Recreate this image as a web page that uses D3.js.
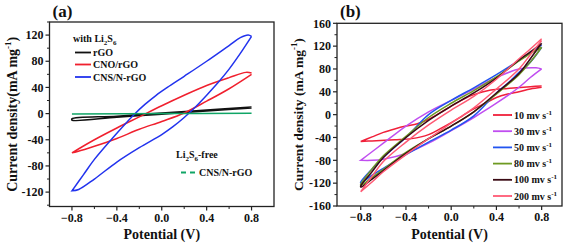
<!DOCTYPE html>
<html>
<head>
<meta charset="utf-8">
<script src="https://cdn.jsdelivr.net/npm/d3@7"></script>
<style>
  body { margin: 0; background: #fff; }
  text { font-family: "Liberation Serif", "Times New Roman", serif; font-weight: bold; fill: #111; }
</style>
</head>
<body>
<div id="chart"></div>
<script>
"use strict";

// ---- data: panel (a), [potential, current] per branch
var aSeries = ["rGO", "CNO/rGO", "CNS/N-rGO", "CNS/N-rGO (Li2S6-free)"];
var aColors = ["#111111", "#f0202e", "#2233ee", "#10a566"];

var rgoBack = [[0.8, 10], [0.4, 5.5], [0, 1], [-0.4, -4], [-0.8, -8]];
var rgoFwd = [[-0.8, -10], [-0.4, -5.5], [0, -1], [0.4, 4], [0.8, 8.5]];

var cnoBack = [[0.8, 62], [0.75, 63], [0.6, 55], [0.4, 43], [0.2, 28], [0, 12], [-0.2, -5], [-0.4, -22], [-0.6, -40], [-0.8, -60]];
var cnoFwd = [[-0.8, -60], [-0.75, -58], [-0.6, -50], [-0.4, -38], [-0.2, -24], [0, -12], [0.2, 1], [0.4, 19], [0.6, 38], [0.8, 60]];

var cnsBack = [[0.8, 118], [0.77, 120], [0.7, 116], [0.6, 104], [0.4, 80], [0.2, 57], [0.05, 40], [-0.05, 28], [-0.15, 14], [-0.25, -2], [-0.4, -30], [-0.6, -70], [-0.7, -94], [-0.8, -118]];
var cnsFwd = [[-0.8, -118], [-0.74, -116], [-0.6, -100], [-0.4, -74], [-0.2, -52], [0, -32], [0.1, -20], [0.2, -6], [0.3, 10], [0.4, 28], [0.5, 47], [0.6, 68], [0.7, 92], [0.8, 118]];

var freeBack = [[0.8, 0.5], [0, 0], [-0.8, -0.5]];
var freeFwd = [[-0.8, -0.5], [0, 0], [0.8, 0.5]];

var aBack = [rgoBack, cnoBack, cnsBack, freeBack];
var aFwd = [rgoFwd, cnoFwd, cnsFwd, freeFwd];

// ---- data: panel (b), scan rates
var bSeries = ["10", "30", "50", "80", "100", "200"];
var bColors = ["#f0203a", "#c04ef0", "#2255f0", "#6e9a22", "#3a0a14", "#ff5a74"];

var b10Back = [[0.8, 50], [0.7, 49], [0.5, 46], [0.35, 43], [0.2, 35], [0.1, 26], [0, 15], [-0.1, 3], [-0.2, -8], [-0.3, -16], [-0.4, -20], [-0.5, -25], [-0.6, -31], [-0.7, -39], [-0.8, -47]];
var b10Fwd = [[-0.8, -47], [-0.7, -46], [-0.5, -44], [-0.35, -42], [-0.2, -35], [-0.1, -25], [0, -14], [0.1, -2], [0.2, 10], [0.3, 20], [0.4, 30], [0.5, 36], [0.6, 40], [0.7, 45], [0.8, 48]];

var b30Back = [[0.8, 80], [0.75, 82], [0.6, 80], [0.4, 65], [0.2, 45], [0, 25], [-0.2, 5], [-0.4, -20], [-0.6, -50], [-0.7, -65], [-0.8, -80]];
var b30Fwd = [[-0.8, -80], [-0.7, -80], [-0.6, -78], [-0.4, -68], [-0.2, -50], [0, -28], [0.2, -5], [0.4, 20], [0.6, 48], [0.7, 65], [0.8, 80]];

var b50Back = [[0.8, 122], [0.7, 108], [0.6, 95], [0.4, 70], [0.2, 47], [0, 25], [-0.2, 0], [-0.4, -40], [-0.5, -57], [-0.6, -75], [-0.7, -95], [-0.8, -118]];
var b50Fwd = [[-0.8, -120], [-0.7, -106], [-0.6, -94], [-0.4, -70], [-0.2, -48], [0, -27], [0.2, -2], [0.4, 38], [0.5, 55], [0.6, 74], [0.7, 92], [0.8, 118]];

var b80Back = [[0.8, 118], [0.7, 107], [0.6, 94], [0.4, 66], [0.2, 42], [0, 20], [-0.2, -5], [-0.4, -38], [-0.6, -72], [-0.7, -95], [-0.8, -122]];
var b80Fwd = [[-0.8, -124], [-0.7, -110], [-0.6, -96], [-0.4, -66], [-0.2, -42], [0, -20], [0.2, 5], [0.4, 36], [0.6, 70], [0.7, 92], [0.8, 118]];

var b100Back = [[0.8, 125], [0.7, 110], [0.6, 96], [0.4, 64], [0.2, 38], [0, 15], [-0.2, -10], [-0.4, -40], [-0.6, -75], [-0.7, -100], [-0.8, -125]];
var b100Fwd = [[-0.8, -127], [-0.7, -113], [-0.6, -98], [-0.4, -68], [-0.2, -42], [0, -20], [0.2, 5], [0.4, 38], [0.6, 72], [0.7, 98], [0.8, 125]];

var b200Back = [[0.8, 133], [0.7, 115], [0.6, 98], [0.4, 62], [0.2, 32], [0, 8], [-0.2, -18], [-0.4, -48], [-0.6, -82], [-0.7, -108], [-0.8, -135]];
var b200Fwd = [[-0.8, -135], [-0.7, -118], [-0.6, -100], [-0.4, -70], [-0.2, -42], [0, -15], [0.2, 12], [0.4, 45], [0.6, 80], [0.7, 105], [0.8, 130]];

var bBack = [b10Back, b30Back, b50Back, b80Back, b100Back, b200Back];
var bFwd = [b10Fwd, b30Fwd, b50Fwd, b80Fwd, b100Fwd, b200Fwd];

// ---- ticks
var xMajor = [-0.8, -0.4, 0, 0.4, 0.8];
var xMinor = [-0.6, -0.2, 0.2, 0.6];
var aYMajor = [-120, -80, -40, 0, 40, 80, 120];
var aYMinor = [-140, -100, -60, -20, 20, 60, 100, 140];
var bYMajor = [-160, -120, -80, -40, 0, 40, 80, 120, 160];
var bYMinor = [-140, -100, -60, -20, 20, 60, 100, 140];

var svg = d3.select("#chart").append("svg")
  .attr("width", 567)
  .attr("height", 244);

function fmt(v) {
  if (v === 0) return "0.0";
  return d3.format(".1f")(v);
}

function drawPanel(opt) {
  var x = d3.scaleLinear().domain(opt.xDomain).range([opt.left, opt.right]);
  var y = d3.scaleLinear().domain(opt.yDomain).range([opt.bottom, opt.top]);
  var g = svg.append("g");

  // curves
  var line = d3.line()
    .x(function(d) { return x(d[0]); })
    .y(function(d) { return y(d[1]); })
    .curve(d3.curveCatmullRom.alpha(0.5));

  for (var i = 0; i < opt.back.length; i++) {
    g.append("path")
      .attr("d", line(opt.back[i].concat(opt.fwd[i])))
      .attr("fill", "none")
      .attr("stroke", opt.colors[i])
      .attr("stroke-width", 1.5);
  }

  // frame
  g.append("rect")
    .attr("x", opt.left)
    .attr("y", opt.top)
    .attr("width", opt.right - opt.left)
    .attr("height", opt.bottom - opt.top)
    .attr("fill", "none")
    .attr("stroke", "#222")
    .attr("stroke-width", 1.3);

  // y ticks
  opt.yMajor.forEach(function(v) {
    g.append("line").attr("x1", opt.left - 4).attr("x2", opt.left)
      .attr("y1", y(v)).attr("y2", y(v)).attr("stroke", "#222").attr("stroke-width", 1.2);
    g.append("text").attr("x", opt.left - 6).attr("y", y(v)).attr("dy", "0.35em")
      .attr("text-anchor", "end").attr("font-size", 12).text(v);
  });
  opt.yMinor.forEach(function(v) {
    if (y(v) < opt.top || y(v) > opt.bottom) return;
    g.append("line").attr("x1", opt.left - 2.5).attr("x2", opt.left)
      .attr("y1", y(v)).attr("y2", y(v)).attr("stroke", "#222").attr("stroke-width", 1);
  });

  // x ticks
  xMajor.forEach(function(v) {
    g.append("line").attr("x1", x(v)).attr("x2", x(v))
      .attr("y1", opt.bottom).attr("y2", opt.bottom + 4).attr("stroke", "#222").attr("stroke-width", 1.2);
    g.append("text").attr("x", x(v)).attr("y", opt.bottom + 15)
      .attr("text-anchor", "middle").attr("font-size", 12).text(fmt(v));
  });
  xMinor.forEach(function(v) {
    g.append("line").attr("x1", x(v)).attr("x2", x(v))
      .attr("y1", opt.bottom).attr("y2", opt.bottom + 2.5).attr("stroke", "#222").attr("stroke-width", 1);
  });

  // axis titles
  g.append("text").attr("x", (opt.left + opt.right) / 2).attr("y", 239)
    .attr("text-anchor", "middle").attr("font-size", 14).text("Potential (V)");

  var yt = g.append("text")
    .attr("transform", "translate(" + opt.yTitleX + "," + ((opt.top + opt.bottom) / 2) + ") rotate(-90)")
    .attr("text-anchor", "middle").attr("font-size", opt.yTitleSize);
  yt.append("tspan").text(opt.yTitle);
  yt.append("tspan").attr("font-size", opt.yTitleSize * 0.65).attr("dy", -6).text("-1");
  yt.append("tspan").attr("dy", 6).text(")");

  // panel label
  g.append("text").attr("x", opt.left + 3).attr("y", 17)
    .attr("font-size", 17).text(opt.label);

  return { x: x, y: y, g: g };
}

// ---- panel (a)
var pa = drawPanel({
  left: 49.5, right: 274, top: 22, bottom: 206.5,
  xDomain: [-1, 1], yDomain: [-142, 140],
  yMajor: aYMajor, yMinor: aYMinor,
  back: aBack, fwd: aFwd, colors: aColors,
  yTitle: "Current density(mA mg", yTitleX: 17, yTitleSize: 14,
  label: "(a)"
});

// ---- panel (b)
var pb = drawPanel({
  left: 337, right: 562, top: 23.3, bottom: 206,
  xDomain: [-1.01, 0.98], yDomain: [-160, 160],
  yMajor: bYMajor, yMinor: bYMinor,
  back: bBack, fwd: bFwd, colors: bColors,
  yTitle: "Current density (mA mg", yTitleX: 303, yTitleSize: 13.5,
  label: "(b)"
});

// ---- legend (a)
function subText(g, x, y, parts, size) {
  var t = g.append("text").attr("x", x).attr("y", y).attr("font-size", size);
  parts.forEach(function(p) {
    var s = t.append("tspan").text(p[0]);
    if (p[1] === "sub") s.attr("font-size", size * 0.7).attr("dy", 2.5);
    if (p[1] === "base") s.attr("dy", -2.5);
  });
  return t;
}

subText(pa.g, 73, 42, [["with Li"], ["2", "sub"], ["S", "base"], ["6", "sub"]], 10);
var aLegY = [52.5, 64.5, 77];
for (var i = 0; i < 3; i++) {
  pa.g.append("line").attr("x1", 75).attr("x2", 91).attr("y1", aLegY[i]).attr("y2", aLegY[i])
    .attr("stroke", aColors[i]).attr("stroke-width", 1.8);
  pa.g.append("text").attr("x", 93).attr("y", aLegY[i]).attr("dy", "0.35em")
    .attr("font-size", 10).text(aSeries[i]);
}
subText(pa.g, 176, 158, [["Li"], ["2", "sub"], ["S", "base"], ["6", "sub"], ["-free", "base"]], 10);
pa.g.append("line").attr("x1", 181).attr("x2", 196).attr("y1", 172.5).attr("y2", 172.5)
  .attr("stroke", aColors[3]).attr("stroke-width", 1.8).attr("stroke-dasharray", "5,4");
pa.g.append("text").attr("x", 199).attr("y", 172.5).attr("dy", "0.35em")
  .attr("font-size", 10).text("CNS/N-rGO");

// ---- legend (b)
var bLegY = [115, 131.2, 147.4, 163.6, 179.8, 196];
for (var j = 0; j < bSeries.length; j++) {
  pb.g.append("line").attr("x1", 493).attr("x2", 512).attr("y1", bLegY[j]).attr("y2", bLegY[j])
    .attr("stroke", bColors[j]).attr("stroke-width", 1.8);
  var t = pb.g.append("text").attr("x", 514).attr("y", bLegY[j]).attr("dy", "0.35em")
    .attr("font-size", 10);
  t.append("tspan").text(bSeries[j] + " mv s");
  t.append("tspan").attr("font-size", 7).attr("dy", -4).text("-1");
}
</script>
</body>
</html>
